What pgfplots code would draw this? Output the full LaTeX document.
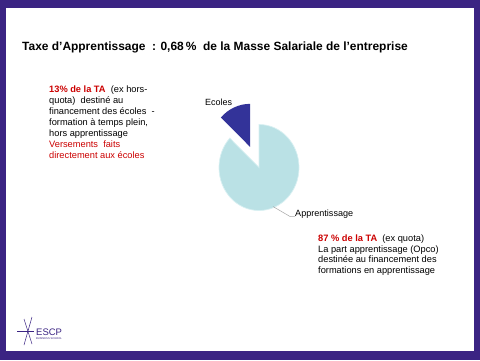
\documentclass[border=0pt]{standalone}
\usepackage{pgfplots}
\pgfplotsset{compat=1.18}
\usepackage{pgfplotstable}
\usepackage{fontspec}
\setmainfont{Liberation Sans}
\definecolor{frame}{HTML}{3B2483}
\definecolor{ecol}{HTML}{333399}
\definecolor{appcol}{HTML}{BAE1E5}
\definecolor{appedge}{HTML}{D8F0F2}
\definecolor{tred}{HTML}{CC0000}
\pgfplotstableread{
label value
Ecoles 13
Apprentissage 87
}\piedata
\begin{document}
\begin{tikzpicture}[x=1bp,y=-1bp]
\fill[frame] (0,0) rectangle (480,360);
\fill[white] (6,8) rectangle (474,351);
\coordinate (pc) at (259,167.5);
% title
\node[anchor=base west,inner sep=0pt,font=\fontsize{12}{14}\selectfont\bfseries] at (22,50)
  {Taxe d'Apprentissage\ \ : 0,68\,\% \ de la Masse Salariale de l'entreprise};
% pie
\begin{axis}[x=1bp,y=1bp,xmin=-45,xmax=45,ymin=-45,ymax=45,hide axis,clip=false,
  anchor=origin,at={(pc)}]
\pgfplotstablegetelem{0}{value}\of\piedata
\pgfmathsetmacro\aE{360*\pgfplotsretval/100}
\pgfmathsetmacro\dx{22.5*cos(90+\aE/2)}
\pgfmathsetmacro\dy{22.5*sin(90+\aE/2)}
\filldraw[fill=appcol,draw=appedge,line width=0.7pt]
  (axis cs:0,0) -- (axis cs:0,43) arc[start angle=90,end angle={\aE-270},x radius=40bp,y radius=43bp] -- cycle;
\fill[ecol] (axis cs:\dx,\dy) -- (axis cs:\dx,{\dy+43}) arc[start angle=90,end angle={90+\aE},x radius=40bp,y radius=43bp] -- cycle;
\end{axis}
% pie labels
\draw[gray!70,line width=0.5pt] (273,206.5) -- (290,216.5) -- (295,216.5);
\node[anchor=base west,inner sep=0pt,font=\fontsize{9}{11}\selectfont] at (205,105) {Ecoles};
\node[anchor=base west,inner sep=0pt,font=\fontsize{9.1}{11}\selectfont] at (295,216) {Apprentissage};
% left text
\begin{scope}[every node/.style={anchor=base west,inner sep=0pt,font=\fontsize{9.3}{11}\selectfont}]
\node at (49,92) {\textcolor{tred}{\bfseries 13\% de la TA}\ \ (ex hors-};
\node at (49,103) {quota)\ \ destiné au};
\node at (49,114.3) {financement des écoles\ \ -};
\node at (49,125.3) {formation à temps plein,};
\node at (49,136.3) {hors apprentissage};
\node at (49,147.3) {\color{tred}Versements\ \ faits};
\node at (49,158.5) {\color{tred}directement aux écoles};
% right text
\node at (318,241.5) {\textcolor{tred}{\bfseries 87 \% de la TA}\ \ (ex quota)};
\node at (318,252.3) {La part apprentissage (Opco)};
\node at (318,262.5) {destinée au financement des};
\node at (318,273) {formations en apprentissage};
\end{scope}
% logo
\begin{scope}[frame,line width=0.5pt]
\draw (24,319) -- (32,344);
\draw (32,317) -- (24,345);
\draw (17,331) -- (34,331);
\end{scope}
\node[anchor=base west,inner sep=0pt,text=frame,font=\fontsize{9.5}{10}\selectfont] at (36,335.5) {ESCP};
\node[anchor=base west,inner sep=0pt,text=frame,font=\fontsize{2.7}{3}\selectfont] at (36,339.8) {BUSINESS SCHOOL};
\end{tikzpicture}
\end{document}
